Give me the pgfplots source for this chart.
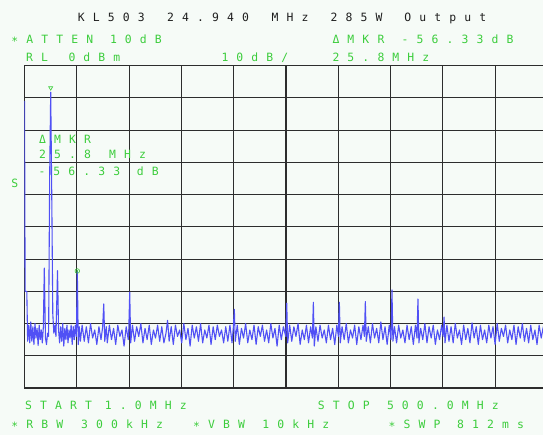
\documentclass[border=0pt]{standalone}
\usepackage{pgfplots}
\pgfplotsset{compat=1.18}
\usepackage{fontspec}
\newfontfamily\hpfont{DejaVu Sans Mono}

\definecolor{bg}{RGB}{246,251,247}
\definecolor{scr}{RGB}{60,205,60}
\definecolor{trace}{RGB}{80,80,245}
\definecolor{gridc}{RGB}{45,45,45}
\definecolor{ttl}{RGB}{30,30,30}

% analyser lettering: every character in a cell of fixed pitch
\newcommand\st{\raisebox{-1.8pt}{*}}
\def\hpstop{\hpstop}
\def\hp#1{\hpi#1\hpstop}
\def\hpi#1{\ifx#1\hpstop\else\makebox[15pt][l]{#1}\expandafter\hpi\fi}

\tikzset{hp/.style={anchor=base west, inner sep=0pt,
  font=\hpfont\fontsize{11.4}{13}\selectfont, text=scr}}

\begin{document}
\begin{tikzpicture}[x=1pt,y=1pt]
\fill[bg] (0,0) rectangle (543,435);

\begin{axis}[at={(24.5pt,47pt)}, anchor=south west, scale only axis,
    width=523pt, height=322.3pt,
    xmin=1, xmax=500, ymin=-100, ymax=0,
    xtick={1,50.9,100.8,150.7,200.6,250.5,300.4,350.3,400.2,450.1,500},
    ytick={-100,-90,...,0},
    xticklabels={}, yticklabels={},
    major tick length=0pt,
    grid=major,
    grid style={draw=gridc, line width=1.1pt},
    axis line style={draw=gridc, line width=1.1pt},
    axis background/.style={fill=bg}]

  % trace, dBm against MHz
  \addplot[trace, line width=1.1pt, line join=round] coordinates {
    (1,-11) (1.3,-40.5) (1.6,-70) (3.2,-70) (4,-85.5) (5,-80.5) (6,-86) (7,-79.5)
    (8,-85.5) (9,-81) (10,-86.5) (11,-80) (12,-84.5) (13,-81.5) (14,-86.8) (15,-80.5)
    (16,-85) (17,-82) (18,-86) (19,-81) (19.9,-62.8) (21,-84.5) (22,-86.5) (23,-83)
    (24,-84) (25,-35) (26,-8.2) (27,-40) (28,-77) (29,-83) (30,-80.5) (31,-84)
    (32.5,-63.6) (33.5,-82) (34.5,-86) (35.5,-81) (36.5,-85.5) (37.5,-80) (38.5,-87)
    (39.5,-81.5) (40.5,-85) (41.5,-80.5) (42.5,-86) (43.5,-82) (44.5,-84.5) (45.5,-80.5)
    (46.5,-86.5) (47.5,-81) (48.5,-85) (49.5,-80.5) (50.5,-84) (51.4,-63.7) (52.3,-86.5)
    (53.3,-81) (54.3,-85.5) (56,-80.5) (58,-85.5) (60,-81) (62,-86) (64,-80) (66,-84.5)
    (68,-82) (70,-86.5) (72,-81) (74,-85) (75.6,-81) (76.6,-73.9) (77.6,-85.5) (79,-81)
    (80,-86) (82,-80.5) (84,-85) (86,-81.5) (88,-86.5) (90,-80.5) (92,-84) (94,-82)
    (96,-87) (98,-81) (100,-85) (100.5,-82) (101.4,-70.3) (102.3,-86) (104,-80.5)
    (106,-85.5) (108,-81) (110,-84) (112,-80) (114,-86) (116,-81.5) (118,-85) (120,-80.5)
    (122,-86.5) (124,-82) (126,-84.5) (128,-80.5) (130,-85.5) (132,-81) (134,-86)
    (136,-83) (137.5,-79) (139,-85.5) (141,-81) (143,-86.5) (145,-80.5) (147,-84)
    (149,-82) (151,-86) (153,-80) (155,-85) (157,-81.5) (159,-87) (161,-80.5) (163,-84.5)
    (165,-81) (167,-85.5) (169,-80) (171,-86) (173,-82) (175,-84.5) (177,-80.5) (179,-86.5)
    (181,-81) (183,-85) (185,-80.5) (187,-84) (189,-82) (191,-86) (193,-81) (195,-85.5)
    (197,-80.5) (199,-86) (200.3,-81) (201.2,-75.6) (202.1,-85.5) (204,-80.5) (206,-86.5)
    (208,-81.5) (210,-84.5) (212,-80) (214,-86) (216,-82) (218,-85) (220,-80.5) (222,-86.5)
    (224,-81) (226,-84) (228,-80.5) (230,-85.5) (232,-82) (234,-86) (236,-80) (238,-84.5)
    (240,-81.5) (242,-87) (244,-80.5) (246,-85) (248,-81) (250.3,-84) (251.2,-73.7)
    (252.1,-86) (254,-80.5) (256,-85.5) (258,-81) (260,-84) (262,-80) (264,-86.5) (266,-82)
    (268,-85) (270,-80.5) (272,-86) (274,-81) (275.7,-84.5) (276.6,-73.4) (277.5,-87)
    (279,-81) (281,-85.5) (283,-80.5) (285,-84.5) (287,-82) (289,-86) (291,-80.5) (293,-85)
    (295,-81.5) (297,-86.5) (299,-80.5) (300.5,-84) (301.4,-73.4) (302.3,-86) (304,-81)
    (306,-85) (308,-80) (310,-86) (312,-82) (314,-84.5) (316,-80.5) (318,-86.5) (320,-81)
    (322,-85) (324,-80.5) (325.3,-84) (326.2,-73.2) (327.1,-85.5) (329,-81) (331,-86)
    (333,-80) (335,-84.5) (337,-81.5) (339,-86) (341,-79.5) (343,-85) (345,-81) (347,-86.5)
    (349,-80.5) (350.7,-85) (351.6,-69.6) (352.5,-85.5) (354,-81) (356,-86) (358,-80.5)
    (360,-84.5) (362,-82) (364,-86) (366,-80.5) (368,-85) (370,-81) (372,-86.5) (374,-80.5)
    (375.5,-84.5) (376.4,-72.4) (377.3,-86) (379,-81.5) (381,-85) (383,-80) (385,-86)
    (387,-81) (389,-84.5) (391,-80.5) (393,-86.5) (395,-82) (397,-85) (399,-80.5)
    (400.4,-84) (401.3,-78) (402.2,-86) (404,-80.5) (406,-85.5) (408,-81) (410,-86)
    (412,-80) (414,-84.5) (416,-82) (418,-86.5) (420,-80.5) (422,-85) (424,-81.5) (426,-86)
    (428,-79.8) (430,-84.5) (432,-81) (434,-86.5) (436,-80.5) (438,-85) (440,-82) (442,-86)
    (444,-80.5) (446,-84.5) (448,-81) (450,-86.5) (452,-80) (454,-85.5) (456,-81.5) (458,-84)
    (460,-80.5) (462,-86) (464,-82) (466,-85) (468,-80.5) (470,-86.5) (472,-81) (474,-84.5)
    (476,-80) (478,-85.5) (480,-81.5) (482,-86) (484,-80.5) (486,-85) (488,-82) (490,-86.5)
    (492,-80.5) (494,-84.5) (496,-81) (498,-85.5) (500,-81)
  };

  % reference marker and delta marker
  \addplot[only marks, mark=triangle, mark size=2.3pt,
    mark options={draw=scr, rotate=180, line width=0.6pt}] coordinates {(26,-6.9)};
  \addplot[only marks, mark=o, mark size=2.3pt,
    mark options={draw=scr, line width=0.6pt}] coordinates {(51.4,-63.7)};
  \addplot[only marks, mark=*, mark size=0.6pt,
    mark options={draw=scr, fill=scr}] coordinates {(51.4,-63.7)};
\end{axis}

% screen annotations (x = left edge, y = baseline, in pixels from bottom)
\node[hp, text=ttl] at (77.6,413.5) {\hp{KL503}};
\node[hp, text=ttl] at (166.9,413.5) {\hp{24.940}};
\node[hp, text=ttl] at (271.5,413.5) {\hp{MHz}};
\node[hp, text=ttl] at (330.4,413.5) {\hp{285W}};
\node[hp, text=ttl] at (404.1,413.5) {\hp{Output}};

\node[hp] at (11.1,391) {\hp{\st ATTEN}};
\node[hp] at (109.8,391) {\hp{10dB}};
\node[hp] at (332.3,391) {\hp{ΔMKR}};
\node[hp] at (401.5,391) {\hp{-56.33dB}};

\node[hp] at (26,373.4) {\hp{RL}};
\node[hp] at (68.3,373.4) {\hp{0dBm}};
\node[hp] at (221.3,373.4) {\hp{10dB/}};
\node[hp] at (332.3,373.4) {\hp{25.8MHz}};

\node[hp] at (39,291) {\hp{ΔMKR}};
\node[hp] at (39,276.3) {\hp{25.8}};
\node[hp] at (109,276.3) {\hp{MHz}};
\node[hp] at (38.3,259) {\hp{-56.33}};
\node[hp] at (136.7,259) {\hp{dB}};

\node[hp] at (11.3,247) {\hp{S}};

\node[hp] at (25,25.2) {\hp{START}};
\node[hp] at (104.6,25.2) {\hp{1.0MHz}};
\node[hp] at (317.6,25.2) {\hp{STOP}};
\node[hp] at (386.8,25.2) {\hp{500.0MHz}};

\node[hp] at (11.1,6.5) {\hp{\st RBW}};
\node[hp] at (81,6.5) {\hp{300kHz}};
\node[hp] at (193,6.5) {\hp{\st VBW}};
\node[hp] at (262.2,6.5) {\hp{10kHz}};
\node[hp] at (388.5,6.5) {\hp{\st SWP}};
\node[hp] at (457,6.5) {\hp{812ms}};

\pgfresetboundingbox
\useasboundingbox (0,0) rectangle (543,435);
\end{tikzpicture}
\end{document}
